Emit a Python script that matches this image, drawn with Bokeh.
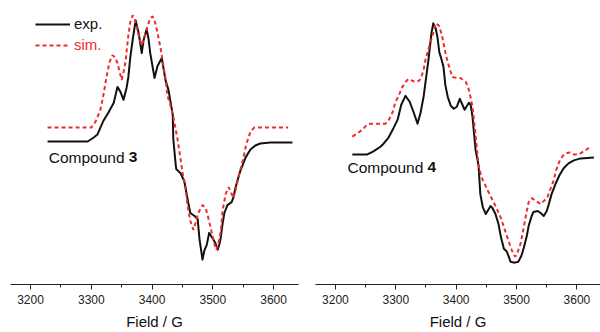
from bokeh.plotting import figure
from bokeh.layouts import row
from bokeh.models import Range1d, Label, Legend, LegendItem, FixedTicker
from bokeh.embed import file_html
from bokeh.resources import INLINE

# ---------------- data ----------------
left_exp_field = [3228,3294,3304,3310,3320,3328,3337,3343,3348,3353,3358,3361,3364,3368,3373,3378,3383,3386,3391,3394,
                  3397,3404,3409,3416,3422,3427,3434,3435,3439,3440,3447,3453,3460,3463,3470,3475,3478,3483,3486,3490,
                  3494,3499,3504,3508,3511,3513,3516,3519,3524,3531,3534,3537,3545,3554,3562,3570,3578,3595,3631]
left_exp_int = [0,0,4,7,21,29,39,55,50,42,54,65,84,102,122,109,89,102,113,104,
                89,64,76,84,62,52,27,2,-24,-28,-32,-40,-63,-72,-75,-78,-98,-119,-110,-104,
                -92,-97,-102,-109,-103,-97,-83,-72,-64,-61,-56,-47,-30,-16,-8,-4,-2,-1,-1]

left_sim_field = [3228,3300,3307,3315,3320,3325,3330,3335,3340,3343,3350,3353,3356,3361,3364,3368,3371,3374,3379,3383,
                  3388,3392,3397,3401,3404,3407,3414,3422,3425,3430,3435,3442,3447,3450,3455,3458,3463,3468,3471,3476,
                  3483,3488,3491,3498,3503,3506,3509,3513,3516,3521,3526,3529,3534,3537,3542,3549,3555,3562,3568,3624]
left_sim_int = [14,14,20,32,47,65,80,87,84,79,62,70,79,107,120,127,124,117,104,97,
                106,115,124,126,122,115,94,64,47,37,25,2,-18,-31,-45,-63,-80,-89,-83,-72,
                -64,-67,-73,-91,-104,-109,-103,-91,-70,-53,-46,-50,-57,-50,-36,-20,-3,10,14,14]

right_exp_field = [3228,3253,3263,3275,3280,3288,3295,3303,3309,3316,3323,3328,3336,3341,3346,3354,3359,3362,3366,3369,
                   3372,3376,3379,3382,3386,3391,3396,3401,3406,3411,3414,3421,3424,3427,3432,3437,3440,3444,3449,3454,
                   3457,3460,3465,3470,3474,3479,3484,3487,3490,3497,3503,3508,3512,3517,3520,3525,3528,3535,3540,3545,
                   3550,3553,3558,3565,3571,3578,3586,3595,3606,3628]
right_exp_int = [0,0,3,8,11,17,25,35,50,59,53,45,31,42,58,95,122,132,127,118,
                 103,95,88,70,58,49,46,48,56,49,45,52,50,38,5,-11,-40,-53,-60,-55,
                 -52,-54,-60,-70,-83,-95,-98,-103,-108,-109,-108,-102,-94,-82,-72,-62,-58,-57,-59,-62,
                 -57,-51,-40,-29,-21,-14,-9,-6,-4,-3]

right_sim_field = [3228,3236,3245,3251,3258,3266,3275,3283,3288,3295,3299,3306,3311,3316,3321,3328,3333,3338,3341,3346,
                   3349,3354,3361,3366,3371,3374,3377,3382,3386,3391,3394,3401,3407,3416,3421,3424,3427,3432,3437,3442,
                   3449,3455,3462,3469,3474,3480,3485,3490,3495,3498,3502,3507,3512,3515,3520,3525,3530,3535,3540,3545,
                   3551,3556,3561,3566,3571,3576,3581,3588,3595,3603,3611,3616,3623]
right_sim_int = [18,21,25,29,31,31,31,31,34,43,52,61,68,73,76,74,73,74,76,85,
                 95,106,120,132,130,125,118,103,93,83,78,77,77,73,65,57,48,20,-11,-23,
                 -32,-40,-48,-57,-64,-75,-84,-93,-101,-103,-98,-89,-73,-63,-48,-44,-46,-48,-50,-47,
                 -43,-35,-27,-15,-7,-2,1,2,0,0,3,5,8]

field_ticks = [3200, 3300, 3400, 3500, 3600]
field_minor_ticks = [3150, 3250, 3350, 3450, 3550, 3650]
series_names = ["exp.", "sim."]
compound_names = ["3", "4"]

FONT = "Liberation Sans"
RED = "#ee2c2c"
BLACK = "#111111"


def make_panel(width, border_left, border_right, xr, yr, exp_f, exp_i, sim_f, sim_i,
               cname, lab_x, lab_y, with_legend):
    p = figure(width=width, height=332, output_backend="svg", toolbar_location=None,
               x_range=Range1d(*xr), y_range=Range1d(*yr), y_axis_location=None,
               min_border=0, min_border_left=border_left, min_border_right=border_right,
               min_border_top=0)
    p.outline_line_color = None
    p.grid.visible = False
    p.background_fill_color = "white"
    p.border_fill_color = "white"

    r_exp = p.line(exp_f, exp_i, line_color=BLACK, line_width=2, line_join="round")
    r_sim = p.line(sim_f, sim_i, line_color=RED, line_width=2, line_dash="4 3")

    ax = p.xaxis[0]
    ax.ticker = FixedTicker(ticks=field_ticks, minor_ticks=field_minor_ticks)
    ax.axis_label = "Field / G"
    ax.axis_label_text_font = FONT
    ax.axis_label_text_font_size = "15px"
    ax.axis_label_text_font_style = "normal"
    ax.axis_label_text_color = BLACK
    ax.axis_label_standoff = 6
    ax.major_label_text_font = FONT
    ax.major_label_text_font_size = "12px"
    ax.major_label_text_color = "#222222"
    ax.major_label_standoff = 5
    ax.axis_line_color = "#222222"
    ax.axis_line_width = 1.2
    ax.major_tick_line_color = "#222222"
    ax.minor_tick_line_color = "#222222"
    ax.major_tick_out = 5
    ax.major_tick_in = 0
    ax.minor_tick_out = 3
    ax.minor_tick_in = 0

    p.add_layout(Label(x=lab_x, y=lab_y, text="Compound ", text_font=FONT, text_font_size="15.5px",
                       text_color=BLACK, text_baseline="middle"))
    p.add_layout(Label(x=lab_x, y=lab_y, x_offset=80, text=cname, text_font=FONT, text_font_size="15.5px",
                       text_font_style="bold", text_color=BLACK, text_baseline="middle"))

    if with_legend:
        for rend, name, col, yloc in [(r_exp, series_names[0], BLACK, 252), (r_sim, series_names[1], RED, 231)]:
            lg = Legend(items=[LegendItem(label=name, renderers=[rend])], location=(25, yloc),
                        glyph_width=35, glyph_height=16, label_height=16, label_standoff=4,
                        padding=0, spacing=0, margin=0,
                        label_text_font=FONT, label_text_font_size="15px", label_text_color=col,
                        border_line_color=None, background_fill_alpha=0)
            p.add_layout(lg)
    return p


p1 = make_panel(300, 10, 2, (3167, 3641), (-144, 142), left_exp_field, left_exp_int,
                left_sim_field, left_sim_int, compound_names[0], 3230, -16, True)
p2 = make_panel(300, 15, 0, (3167, 3639), (-131, 155), right_exp_field, right_exp_int,
                right_sim_field, right_sim_int, compound_names[1], 3220, -13, False)

layout = row(p1, p2)
open("out.html", "w").write(file_html(layout, INLINE))
